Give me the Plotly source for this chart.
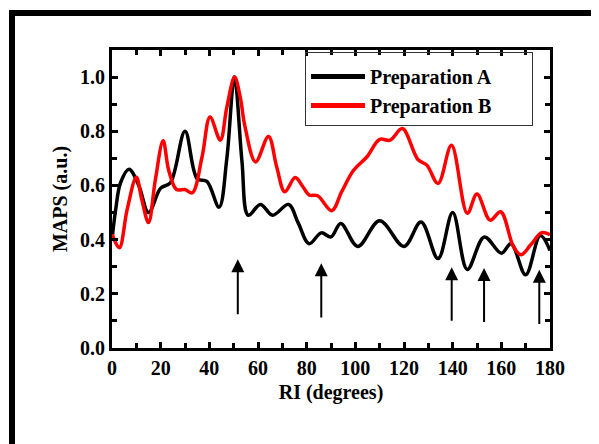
import plotly.graph_objects as go

# ---- data ----
ri_a = [0, 1.5, 3.5, 7, 11, 15, 20, 24, 30, 35, 39, 44, 47.2, 50.3, 53.4, 56, 61, 66, 72.5, 76.6, 81, 86,
        90, 94, 101, 110, 120, 127, 134, 140, 146, 153, 160, 164, 170, 176, 180]
maps_a = [0.40, 0.51, 0.61, 0.66, 0.60, 0.50, 0.59, 0.61, 0.80, 0.625, 0.615, 0.52, 0.70, 1.00, 0.69, 0.49,
          0.53, 0.49, 0.53, 0.46, 0.385, 0.425, 0.41, 0.46, 0.375, 0.47, 0.375, 0.465, 0.33, 0.50, 0.29,
          0.41, 0.35, 0.385, 0.27, 0.415, 0.36]

ri_b = [0, 3, 6.2, 10, 12.3, 15, 17.8, 21, 23.3, 26.5, 30, 33, 37, 40.3, 44.5, 47.2, 50.4, 52.7, 54.7, 59,
        64.3, 67.7, 71, 75.3, 78.3, 81, 84.5, 90.3, 94.4, 99.2, 104.7, 110, 114.3, 119.3, 125.7, 129.4,
        134, 139.5, 146, 150, 155.4, 159.7, 165, 168.1, 172, 176.6, 180]
maps_b = [0.42, 0.37, 0.51, 0.63, 0.546, 0.463, 0.62, 0.765, 0.656, 0.585, 0.585, 0.573, 0.705, 0.853,
          0.767, 0.889, 1.00, 0.926, 0.815, 0.687, 0.781, 0.668, 0.577, 0.629, 0.597, 0.565, 0.562, 0.507,
          0.577, 0.655, 0.705, 0.77, 0.767, 0.81, 0.696, 0.675, 0.607, 0.748, 0.497, 0.568, 0.472, 0.503,
          0.374, 0.344, 0.38, 0.426, 0.418]

arrow_x = [51.7, 86.0, 139.6, 152.9, 175.6]
arrow_tip = [0.328, 0.313, 0.298, 0.295, 0.289]
arrow_tail = [0.119, 0.107, 0.095, 0.090, 0.083]

x_ticks = [0, 20, 40, 60, 80, 100, 120, 140, 160, 180]
y_ticks = [0.0, 0.2, 0.4, 0.6, 0.8, 1.0]
y_ticklabels = ["0.0", "0.2", "0.4", "0.6", "0.8", "1.0"]
series_names = ["Preparation A", "Preparation B"]

FONT = "Liberation Serif, Times New Roman, serif"
PAD = "&nbsp;" * 7

fig = go.Figure()
fig.add_trace(go.Scatter(x=ri_a, y=maps_a, mode="lines", name=f"<b>{series_names[0]}</b>{PAD}",
                         line=dict(color="#000000", width=3.5, shape="spline", smoothing=1.0)))
fig.add_trace(go.Scatter(x=ri_b, y=maps_b, mode="lines", name=f"<b>{series_names[1]}</b>{PAD}",
                         line=dict(color="#ff0000", width=3.5, shape="spline", smoothing=1.0)))

for xa, yt, yb in zip(arrow_x, arrow_tip, arrow_tail):
    fig.add_annotation(x=xa, y=yt, ax=xa, ay=yb, xref="x", yref="y", axref="x", ayref="y",
                       text="", showarrow=True, arrowhead=2, arrowsize=1.3, arrowwidth=2,
                       arrowcolor="#000000", standoff=0)

# outer frame of the figure
fig.add_shape(type="rect", xref="paper", yref="paper", x0=-0.2283, x1=1.15, y0=-0.40, y1=1.124,
              line=dict(color="#000000", width=6), fillcolor="rgba(0,0,0,0)", layer="above")

axis_common = dict(showline=True, linecolor="#000000", linewidth=3, mirror="ticks",
                   ticks="inside", ticklen=6, tickwidth=2.5, tickcolor="#000000",
                   showgrid=False, zeroline=False, automargin=False,
                   tickfont=dict(family=FONT, size=20, color="#000000"))

fig.update_xaxes(range=[0, 180], tickvals=x_ticks, ticktext=[f"<b>{v}</b>" for v in x_ticks],
                 minor=dict(dtick=10, ticks="inside", ticklen=5, tickwidth=2.5, tickcolor="#000000"),
                 title=dict(text="<b>RI (degrees)</b>", font=dict(family=FONT, size=20, color="#000000"),
                            standoff=7),
                 **axis_common)
fig.update_yaxes(range=[0, 1.1], tickvals=y_ticks, ticktext=[f"<b>{v}</b>" for v in y_ticklabels],
                 minor=dict(dtick=0.1, ticks="inside", ticklen=5, tickwidth=2.5, tickcolor="#000000"),
                 title=dict(text="<b>MAPS (a.u.)</b>", font=dict(family=FONT, size=20, color="#000000"),
                            standoff=8),
                 **axis_common)

# the page body adds an 8px offset, so the figure is 8px smaller than the window
fig.update_layout(
    width=591, height=436,
    margin=dict(l=104, r=49, t=42, b=96, autoexpand=False),
    paper_bgcolor="#ffffff", plot_bgcolor="#ffffff",
    font=dict(family=FONT, color="#000000"),
    showlegend=True,
    legend=dict(x=0.4406, y=0.993, xanchor="left", yanchor="top",
                bordercolor="#333333", borderwidth=1, bgcolor="rgba(255,255,255,0)",
                font=dict(family=FONT, size=20, color="#000000"),
                title=dict(text=" ", font=dict(size=3)),
                itemwidth=54, tracegroupgap=0, itemsizing="constant"),
)

fig.write_html("out.html")
